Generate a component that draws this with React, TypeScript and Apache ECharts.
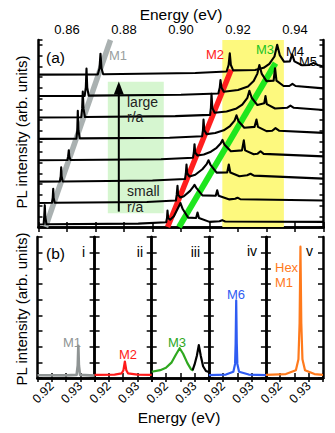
import React, { useEffect, useRef } from 'react';
import * as echarts from 'echarts';

// ---------- Panel (a): stacked PL spectra (energy eV, intensity arb.) ----------
const traceOffsets = [7.12, 6.12, 5.12, 4.12, 3.12, 2.12, 1.12, 0.12];

const trace1 = [[0.85,0],[0.8708,0.01],[0.8714,0.3],[0.87175,0.98],[0.8721,0.3],[0.8727,0.02],[0.905,0.08],[0.916,0.15],[0.9167,0.45],[0.91712,1.0],[0.9175,0.45],[0.9183,0.2],[0.926,0.22],[0.929,0.32],[0.931,0.5],[0.9328,0.85],[0.93375,1.4],[0.9347,0.9],[0.9362,0.6],[0.9382,0.62],[0.93902,0.95],[0.9398,0.62],[0.9425,0.44],[0.945,0.45],[0.94649,0.55],[0.948,0.45],[0.95,0.38]];
const trace2 = [[0.85,0],[0.8662,0.01],[0.8666,0.4],[0.86684,1.29],[0.8671,0.4],[0.8676,0.02],[0.9,0.06],[0.9131,0.12],[0.9136,0.4],[0.91386,0.75],[0.9142,0.4],[0.915,0.2],[0.92,0.28],[0.9235,0.45],[0.9255,0.7],[0.9268,1.05],[0.9275,1.45],[0.9283,1.05],[0.93,0.7],[0.9325,0.72],[0.933,1.3],[0.9335,0.72],[0.936,0.47],[0.938,0.47],[0.9391,0.57],[0.9402,0.47],[0.95,0.36]];
const trace3 = [[0.85,0],[0.865,0.01],[0.8653,0.4],[0.86554,1.21],[0.8658,0.4],[0.8663,0.02],[0.898,0.06],[0.9102,0.12],[0.9105,0.45],[0.9107,1.1],[0.911,0.45],[0.9118,0.22],[0.916,0.28],[0.9195,0.42],[0.9215,0.6],[0.9233,0.92],[0.924,1.25],[0.9248,0.92],[0.9268,0.58],[0.9292,0.66],[0.92965,1.0],[0.9301,0.62],[0.933,0.42],[0.9372,0.45],[0.9384,0.55],[0.9396,0.45],[0.95,0.35]];
const trace4 = [[0.85,0],[0.8633,0.01],[0.8636,0.4],[0.86379,1.31],[0.864,0.4],[0.8645,0.02],[0.896,0.05],[0.9074,0.12],[0.9077,0.4],[0.9079,0.9],[0.9082,0.4],[0.909,0.22],[0.912,0.27],[0.915,0.4],[0.9172,0.6],[0.9188,0.85],[0.91947,1.1],[0.9202,0.82],[0.9222,0.52],[0.9258,0.56],[0.92649,0.9],[0.927,0.56],[0.93,0.36],[0.932,0.38],[0.93316,0.5],[0.9344,0.38],[0.95,0.28]];
const trace5 = [[0.85,0],[0.8602,0.01],[0.8604,0.18],[0.86063,0.47],[0.8608,0.18],[0.8612,0.01],[0.893,0.05],[0.9042,0.12],[0.9045,0.35],[0.90474,0.75],[0.905,0.35],[0.9058,0.22],[0.908,0.27],[0.9105,0.4],[0.9125,0.58],[0.9139,0.78],[0.91456,0.95],[0.9152,0.74],[0.9175,0.42],[0.9214,0.46],[0.92204,0.93],[0.9225,0.46],[0.9255,0.28],[0.9268,0.3],[0.9279,0.42],[0.929,0.3],[0.95,0.18]];
const trace6 = [[0.85,0],[0.8575,0.01],[0.8578,0.25],[0.85796,0.67],[0.8581,0.25],[0.8585,0.01],[0.89,0.05],[0.9014,0.12],[0.9017,0.38],[0.90193,0.8],[0.9022,0.38],[0.903,0.24],[0.905,0.32],[0.9075,0.58],[0.909,0.82],[0.90965,1.0],[0.9103,0.8],[0.9125,0.42],[0.9162,0.43],[0.91677,0.8],[0.9173,0.43],[0.9205,0.25],[0.9232,0.3],[0.92439,0.37],[0.9256,0.28],[0.95,0.14]];
const trace7 = [[0.85,0],[0.8547,0.01],[0.855,0.25],[0.85516,0.67],[0.8553,0.25],[0.8557,0.01],[0.888,0.05],[0.8982,0.12],[0.8985,0.38],[0.89877,0.8],[0.899,0.38],[0.8998,0.26],[0.901,0.32],[0.9032,0.57],[0.9042,0.74],[0.90474,0.85],[0.9053,0.72],[0.9075,0.36],[0.9122,0.34],[0.9127,0.6],[0.9132,0.34],[0.917,0.17],[0.919,0.2],[0.91982,0.25],[0.9208,0.18],[0.95,0.12]];
const trace8 = [[0.85,0],[0.8518,0.01],[0.852,0.35],[0.85221,0.9],[0.8524,0.35],[0.8528,0.01],[0.885,0.04],[0.8948,0.1],[0.8951,0.3],[0.89526,0.65],[0.8955,0.3],[0.8962,0.22],[0.8975,0.38],[0.899,0.78],[0.89982,1.0],[0.9006,0.72],[0.9025,0.32],[0.9053,0.3],[0.9058,0.56],[0.9063,0.3],[0.91,0.12],[0.9135,0.15],[0.91446,0.2],[0.9155,0.14],[0.95,0.12]];
const traces = [trace1, trace2, trace3, trace4, trace5, trace6, trace7, trace8];

const grayBand = [[0.85246, 0], [0.87526, 8.74]];
const redBand = [[0.8953, 0], [0.9176, 7.35]];
const greenBand = [[0.8993, 0], [0.93316, 7.66]];
const yellowRange = [0.9145, 0.9361];
const greenBoxE = [0.87432, 0.89396];
const greenBoxY = [0.64, 6.79];
const arrowE = 0.87818;
const arrowY = [0.72, 6.5];
const aXRange = [0.85, 0.95];
const aYMax = 8.74;

// ---------- Panel (b): five sub-panels ----------
const bXRange = [0.915, 0.935];
const bYMax = 9;
const bGray = [[0.915,0.18],[0.925,0.17],[0.9287,0.2],[0.9291,0.8],[0.9293,2.05],[0.9295,0.8],[0.9299,0.2],[0.935,0.15]];
const bRed = [[0.915,0.2],[0.922,0.22],[0.9245,0.3],[0.9251,0.5],[0.9256,1.05],[0.9261,0.5],[0.9267,0.3],[0.93,0.22],[0.935,0.2]];
const bGreen = [[0.915,0.4],[0.918,0.5],[0.92,0.65],[0.922,1.0],[0.9235,1.5],[0.9248,1.9],[0.926,1.55],[0.9275,0.95],[0.9288,0.55],[0.9295,0.48]];
const bBlack = [[0.9293,0.48],[0.93,0.85],[0.9308,1.4],[0.9315,2.1],[0.9322,1.4],[0.933,0.75],[0.934,0.45],[0.935,0.38]];
const bBlue = [[0.915,0.18],[0.921,0.22],[0.9236,0.4],[0.9242,0.9],[0.9244,2.2],[0.9246,4.95],[0.9248,2.2],[0.925,0.9],[0.9256,0.4],[0.929,0.22],[0.935,0.18]];
const bOrange = [[0.915,0.2],[0.922,0.25],[0.9255,0.5],[0.9264,1.2],[0.9268,3.5],[0.9271,8.38],[0.9274,3.5],[0.9278,1.2],[0.9287,0.5],[0.932,0.25],[0.935,0.2]];

const FONT = 'Liberation Sans, Arial, Helvetica, sans-serif';

function txt(text: string, x: number, y: number, size: number, fill = '#000', align = 'left', rot = 0) {
  return {
    type: 'text', x, y, rotation: rot, z: 100,
    style: { text, fill, font: `${size}px ${FONT}`, textAlign: align, textVerticalAlign: 'middle' },
  };
}

export default function App() {
  const ref = useRef<HTMLDivElement>(null);
  useEffect(() => {
    if (!ref.current) return;
    const chart = echarts.init(ref.current, undefined, { renderer: 'svg' });
    const axisLine = { show: true, lineStyle: { color: '#000', width: 2.5 } };
    const tickIn = (len: number) => ({ show: true, inside: true, length: len, lineStyle: { color: '#000', width: 1.5 } });

    const aL = 38.5, aT = 40, aW = 285, aH = 187;
    const bL = 37.5, bT = 237, bH = 141, bW = 57.1;

    const grids: any[] = [{ left: aL, top: aT, width: aW, height: aH }];
    for (let i = 0; i < 5; i++) grids.push({ left: bL + i * bW, top: bT, width: bW, height: bH });

    const xAxes: any[] = [
      { type: 'value', gridIndex: 0, min: aXRange[0], max: aXRange[1], interval: 0.01, axisLine, axisTick: tickIn(5), axisLabel: { show: false }, splitLine: { show: false } },
      { type: 'value', gridIndex: 0, position: 'top', min: aXRange[0], max: aXRange[1], interval: 0.01, axisLine, axisTick: tickIn(5), splitLine: { show: false },
        axisLabel: { show: true, margin: 4, fontSize: 13, fontFamily: FONT, color: '#000',
          formatter: (v: number) => (Math.round(v * 100) % 2 === 0 ? v.toFixed(2) : '') } },
    ];
    const yAxes: any[] = [
      { type: 'value', gridIndex: 0, min: 0, max: aYMax, interval: 0.5, axisLine, axisTick: tickIn(4), axisLabel: { show: false }, splitLine: { show: false } },
      { type: 'value', gridIndex: 0, position: 'right', min: 0, max: aYMax, interval: 0.5, axisLine, axisTick: tickIn(4), axisLabel: { show: false }, splitLine: { show: false } },
    ];
    for (let i = 0; i < 5; i++) {
      xAxes.push({ type: 'value', gridIndex: i + 1, min: bXRange[0], max: bXRange[1], interval: 0.005, axisLine, axisTick: tickIn(5), splitLine: { show: false },
        axisLabel: { show: true, rotate: 45, margin: 6, fontSize: 12.5, fontFamily: FONT, color: '#000',
          formatter: (v: number) => (Math.abs(v - 0.92) < 1e-6 ? '0.92' : Math.abs(v - 0.93) < 1e-6 ? '0.93' : '') } });
    }
    for (let i = 0; i < 5; i++) {
      xAxes.push({ type: 'value', gridIndex: i + 1, position: 'top', min: bXRange[0], max: bXRange[1], interval: 0.005, axisLine, axisTick: tickIn(4), axisLabel: { show: false }, splitLine: { show: false } });
    }
    for (let i = 0; i < 5; i++) {
      yAxes.push({ type: 'value', gridIndex: i + 1, min: 0, max: bYMax, interval: 1, axisLine, axisTick: tickIn(5), axisLabel: { show: false }, splitLine: { show: false } });
    }
    for (let i = 0; i < 5; i++) {
      yAxes.push({ type: 'value', gridIndex: i + 1, position: 'right', min: 0, max: bYMax, interval: 1, axisLine, axisTick: tickIn(5), axisLabel: { show: false }, splitLine: { show: false } });
    }

    const series: any[] = [];
    series.push({ type: 'line', xAxisIndex: 0, yAxisIndex: 0, data: [[aXRange[0], 0]], showSymbol: false, z: 1, silent: true,
      lineStyle: { width: 0 },
      markArea: { silent: true, itemStyle: { color: '#fdf97e' },
        data: [[{ coord: [yellowRange[0], 0] }, { coord: [yellowRange[1], aYMax] }]] } });
    series.push({ type: 'line', xAxisIndex: 0, yAxisIndex: 0, data: [[aXRange[0], 0]], showSymbol: false, z: 1, silent: true,
      lineStyle: { width: 0 },
      markArea: { silent: true, itemStyle: { color: '#d6f6d0' },
        data: [[{ coord: [greenBoxE[0], greenBoxY[0]] }, { coord: [greenBoxE[1], greenBoxY[1]] }]] } });
    const band = (d: number[][], color: string, w: number) => ({ type: 'line', xAxisIndex: 0, yAxisIndex: 0, data: d, symbol: 'none', z: 2, silent: true,
      lineStyle: { color, width: w, cap: 'butt' } });
    series.push(band(grayBand, '#aab1b1', 5.5));
    series.push(band(redBand, '#ff1e1e', 5.5));
    series.push(band(greenBand, '#1ee61e', 6));
    traces.forEach((t, i) => {
      series.push({ type: 'line', xAxisIndex: 0, yAxisIndex: 0, symbol: 'none', z: 3, silent: true,
        data: t.map(([e, v]) => [e, v + traceOffsets[i]]),
        lineStyle: { color: '#000', width: 2.1, join: 'round' } });
    });
    series.push({ type: 'line', xAxisIndex: 0, yAxisIndex: 0, z: 4, silent: true,
      data: [{ value: [arrowE, arrowY[0]], symbol: 'none' }, { value: [arrowE, arrowY[1]], symbol: 'triangle', symbolSize: [10, 13] }],
      showAllSymbol: true, itemStyle: { color: '#000' }, lineStyle: { color: '#000', width: 2 } });

    const bs = (d: number[][], idx: number, color: string, w = 2) => ({ type: 'line', xAxisIndex: 2 + idx, yAxisIndex: 2 + idx, data: d, symbol: 'none', z: 3, silent: true,
      lineStyle: { color, width: w, join: 'round' } });
    series.push(bs(bGray, 0, '#8f9494', 2.6));
    series.push(bs(bRed, 1, '#ff1a1a', 2.2));
    series.push(bs(bGreen, 2, '#2fa81f', 2.2));
    series.push(bs(bBlack, 2, '#000', 2.2));
    series.push(bs(bBlue, 3, '#2f5cf2', 2.2));
    series.push(bs(bOrange, 4, '#ff7a1c', 2.2));

    const graphic: any[] = [
      txt('Energy (eV)', 181, 14, 15.5, '#000', 'center'),
      txt('Energy (eV)', 179, 417, 15.5, '#000', 'center'),
      txt('PL intensity (arb. units)', 21, 132, 15, '#000', 'center', Math.PI / 2),
      txt('PL intensity (arb. units)', 21, 309, 15, '#000', 'center', Math.PI / 2),
      txt('(a)', 46, 57, 15.5),
      txt('M1', 109, 55, 13, '#9aa0a0'),
      txt('M2', 206, 54, 13, '#ff1a1a'),
      txt('M3', 256, 49, 13, '#22c41e'),
      txt('M4', 286, 51, 13, '#000'),
      txt('M5', 299, 61, 13, '#000'),
      txt('large', 127, 102, 14, '#222'),
      txt('r/a', 127, 117, 14, '#222'),
      txt('small', 127, 191, 14, '#222'),
      txt('r/a', 127, 207, 14, '#222'),
      txt('(b)', 46, 253, 15.5),
      txt('i', 85, 252, 14, '#000', 'right'),
      txt('ii', 143, 252, 14, '#000', 'right'),
      txt('iii', 200, 252, 14, '#000', 'right'),
      txt('iv', 257, 251, 14, '#000', 'right'),
      txt('v', 313, 251, 14, '#000', 'right'),
      txt('M1', 63, 342, 13, '#8f9494'),
      txt('M2', 119, 354, 13, '#ff1a1a'),
      txt('M3', 168, 342, 13, '#2fa81f'),
      txt('M6', 227, 294, 13, '#2f5cf2'),
      txt('Hex', 275, 267, 13, '#ff7a1c'),
      txt('M1', 275, 282, 13, '#ff7a1c'),
    ];

    chart.setOption({
      animation: false,
      backgroundColor: '#fff',
      grid: grids,
      xAxis: xAxes,
      yAxis: yAxes,
      series,
      graphic,
    });
    return () => chart.dispose();
  }, []);
  return <div ref={ref} style={{ position: 'fixed', left: 0, top: 0, width: 335, height: 433 }} />;
}
